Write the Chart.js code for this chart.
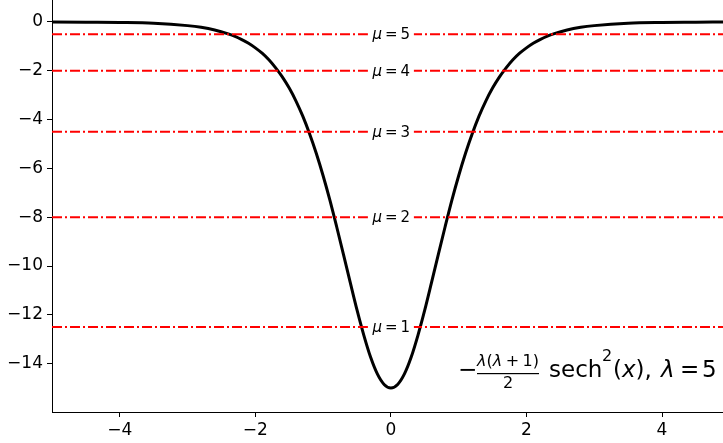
<!DOCTYPE html>
<html>
<head>
<meta charset="utf-8">
<script src="https://cdn.jsdelivr.net/npm/chart.js@4/dist/chart.umd.min.js"></script>
<style>
  html, body { margin: 0; padding: 0; background: #fff; }
  #wrap { width: 723px; height: 443px; }
</style>
</head>
<body>
<div id="wrap"><canvas id="chart" width="723" height="443"></canvas></div>
<script>
// potential curve
const curveX = [-5, -4.5, -4, -3.5, -3, -2.8, -2.6, -2.4, -2.3, -2.2, -2.1, -2, -1.9, -1.8, -1.7, -1.6, -1.5, -1.4, -1.3, -1.2, -1.1, -1, -0.9, -0.8, -0.7, -0.6, -0.5, -0.4, -0.3, -0.2, -0.1,
  0, 0.1, 0.2, 0.3, 0.4, 0.5, 0.6, 0.7, 0.8, 0.9, 1, 1.1, 1.2, 1.3, 1.4, 1.5, 1.6, 1.7, 1.8, 1.9, 2, 2.1, 2.2, 2.3, 2.4, 2.6, 2.8, 3, 3.5, 4, 4.5, 5];
const curveY = [0, -0.01, -0.02, -0.05, -0.15, -0.22, -0.33, -0.49, -0.59, -0.72, -0.87, -1.06, -1.28, -1.55, -1.88, -2.26, -2.71, -3.24, -3.86, -4.58, -5.39, -6.30, -7.30, -8.39, -9.52, -10.67, -11.80, -12.83, -13.73, -14.42, -14.85,
  -15, -14.85, -14.42, -13.73, -12.83, -11.80, -10.67, -9.52, -8.39, -7.30, -6.30, -5.39, -4.58, -3.86, -3.24, -2.71, -2.26, -1.88, -1.55, -1.28, -1.06, -0.87, -0.72, -0.59, -0.49, -0.33, -0.22, -0.15, -0.05, -0.02, -0.01, 0];

// bound state levels and their labels (mu = 1..5)
const levels = [-12.5, -8, -4.5, -2, -0.5];
const levelNums = ['1', '2', '3', '4', '5'];

const xTicks = [-4, -2, 0, 2, 4];
const yTicks = [0, -2, -4, -6, -8, -10, -12, -14];

const FONT = "'DejaVu Sans', sans-serif";

function fmt(v) {
    return v < 0 ? '\u2212' + Math.abs(v) : String(v);
}

const datasets = [{
    data: curveX.map((x, i) => ({ x: x, y: curveY[i] })),
    borderColor: '#000',
    borderWidth: 3,
    pointRadius: 0,
    cubicInterpolationMode: 'monotone',
    order: 1
}];
levels.forEach(lv => {
    datasets.push({
        data: [{ x: -5, y: lv }, { x: 5, y: lv }],
        borderColor: '#ff0000',
        borderWidth: 2,
        borderDash: [10, 3, 2, 3],
        pointRadius: 0,
        order: 0
    });
});

// draw text pieces left to right, returns end x
function pieces(ctx, x, y, parts) {
    parts.forEach(p => {
        ctx.font = p[0];
        ctx.fillText(p[1], x, y);
        x += ctx.measureText(p[1]).width + (p[2] || 0);
    });
    return x;
}

// white boxed labels on the levels + formula text
const annotations = {
    id: 'annotations',
    afterDatasetsDraw(chart) {
        const ctx = chart.ctx;
        const xs = chart.scales.x, ys = chart.scales.y;
        ctx.save();
        ctx.textBaseline = 'middle';
        ctx.textAlign = 'left';
        levels.forEach((lv, i) => {
            const cx = xs.getPixelForValue(0);
            const cy = ys.getPixelForValue(lv);
            ctx.fillStyle = '#fff';
            ctx.fillRect(cx - 23, cy - 9, 46, 18);
            ctx.fillStyle = '#000';
            pieces(ctx, cx - 18.5, cy + 1, [
                ['italic 15px ' + FONT, '\u03bc', 3],
                ['15px ' + FONT, '=', 3],
                ['15px ' + FONT, levelNums[i]]
            ]);
        });

        // -λ(λ+1)/2 sech²(x), λ = 5
        ctx.textBaseline = 'alphabetic';
        const base = 377;
        const big = '23px ' + FONT, bigI = 'italic 23px ' + FONT;
        const sm = '16px ' + FONT, smI = 'italic 16px ' + FONT;
        pieces(ctx, 458, base, [[big, '\u2212']]);
        const nx = 477;
        const nEnd = pieces(ctx, nx, 366, [
            [smI, '\u03bb'], [sm, '('], [smI, '\u03bb', 3.5], [sm, '+', 3.5], [sm, '1)']
        ]);
        ctx.fillRect(nx, 373, nEnd - nx, 1.2);
        ctx.textAlign = 'center';
        ctx.font = sm;
        ctx.fillText('2', (nx + nEnd) / 2, 388);
        ctx.textAlign = 'left';
        pieces(ctx, 549, base, [[big, 'sech']]);
        pieces(ctx, 602, 361, [[sm, '2']]);
        pieces(ctx, 613, base, [[big, '('], [bigI, 'x'], [big, '),']]);
        pieces(ctx, 661, base, [[bigI, '\u03bb']]);
        pieces(ctx, 680, base, [[big, '=']]);
        pieces(ctx, 702, base, [[big, '5']]);
        ctx.restore();
    }
};

new Chart(document.getElementById('chart'), {
    type: 'line',
    data: { datasets: datasets },
    options: {
        responsive: false,
        animation: false,
        devicePixelRatio: 1,
        layout: { padding: 0 },
        plugins: { legend: { display: false }, tooltip: { enabled: false } },
        scales: {
            x: {
                type: 'linear',
                min: -5,
                max: 4.9,
                afterFit: s => { s.height = 31; s.paddingLeft = 0; s.paddingRight = 0; },
                afterBuildTicks: s => { s.ticks = xTicks.map(v => ({ value: v })); },
                grid: { drawOnChartArea: false, tickLength: 5, tickColor: '#000' },
                border: { color: '#000', width: 1 },
                ticks: { color: '#000', font: { family: FONT, size: 17 }, padding: 3, maxRotation: 0, callback: fmt }
            },
            y: {
                type: 'linear',
                min: -15.98,
                max: 0.9,
                afterFit: s => { s.width = 52; s.paddingTop = 0; s.paddingBottom = 0; },
                afterBuildTicks: s => { s.ticks = yTicks.map(v => ({ value: v })); },
                grid: { drawOnChartArea: false, tickLength: 5, tickColor: '#000' },
                border: { color: '#000', width: 1 },
                ticks: { color: '#000', font: { family: FONT, size: 17 }, padding: 4, callback: fmt }
            }
        }
    },
    plugins: [annotations]
});
</script>
</body>
</html>
